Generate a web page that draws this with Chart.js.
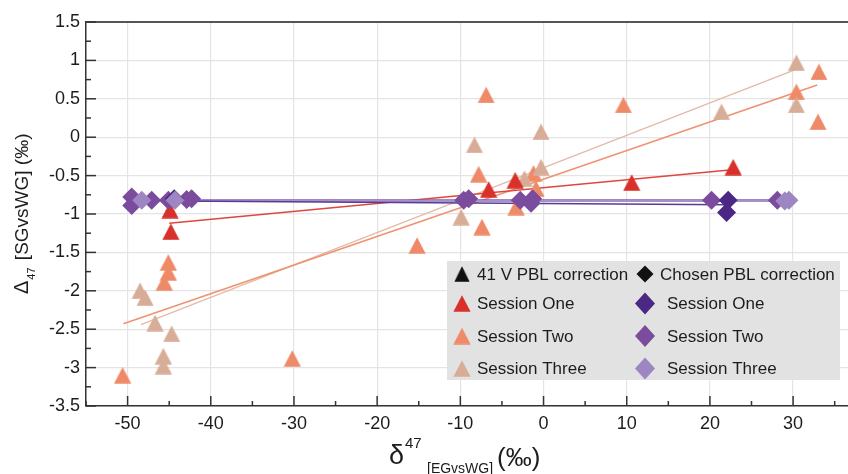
<!DOCTYPE html>
<html><head><meta charset="utf-8">
<script src="https://cdn.jsdelivr.net/npm/chart.js@4.4.1/dist/chart.umd.min.js"></script>
<style>html,body{margin:0;padding:0;background:#fff;}</style>
</head><body>
<canvas id="c" width="848" height="474"></canvas>
<script>
// ---- axis ticks ----
const xTicks = [-50, -40, -30, -20, -10, 0, 10, 20, 30];
const xMinorTicks = [-55, -45, -35, -25, -15, -5, 5, 15, 25, 35];
const yTicks = [-3.5, -3, -2.5, -2, -1.5, -1, -0.5, 0, 0.5, 1, 1.5];
const yMinorTicks = [-3.25, -2.75, -2.25, -1.75, -1.25, -0.75, -0.25, 0.25, 0.75, 1.25];

// ---- 41 V PBL correction (triangles) [x, y] ----
const v41SessionOne = [[-44.9, -0.95], [-44.8, -1.23], [-6.6, -0.68], [-3.4, -0.56], [10.6, -0.59], [22.8, -0.39]];
const v41SessionTwo = [[-50.6, -3.1], [-45.1, -1.63], [-45.1, -1.76], [-45.6, -1.89], [-30.2, -2.88], [-15.2, -1.41],
  [-6.9, 0.55], [-7.8, -0.48], [-7.4, -1.17], [-3.3, -0.91], [-1.2, -0.47], [-0.9, -0.67], [9.6, 0.42],
  [33.1, 0.85], [30.4, 0.59], [33.0, 0.20]];
const v41SessionThree = [[-48.5, -2.0], [-47.9, -2.09], [-46.7, -2.42], [-44.7, -2.56], [-45.7, -2.85], [-45.7, -2.98],
  [-8.3, -0.10], [-0.3, 0.07], [-0.3, -0.39], [-2.3, -0.54], [-9.9, -1.04], [21.4, 0.33], [30.4, 0.97], [30.4, 0.42]];

// ---- Chosen PBL correction (diamonds) [x, y] ----
const chosenSessionOne = [[-44.4, -0.80], [22.2, -0.82], [22.0, -0.98]];
const chosenSessionTwo = [[-49.5, -0.78], [-49.5, -0.89], [-47.1, -0.82], [-45.1, -0.82], [-42.9, -0.81], [-42.3, -0.80],
  [-9.6, -0.82], [-9.0, -0.80], [-2.8, -0.82], [-1.5, -0.86], [-1.3, -0.80], [20.2, -0.82], [28.1, -0.82]];
const chosenSessionThree = [[-48.3, -0.82], [-44.3, -0.82], [29.5, -0.82], [29.0, -0.83]];

// ---- regression lines (end points) ----
const fitV41One = [[-45.0, -1.12], [23.0, -0.42]];
const fitV41Two = [[-50.5, -2.43], [32.9, 0.68]];
const fitV41Three = [[-48.4, -2.44], [30.5, 0.89]];
const fitChosenOne = [[-44.4, -0.83], [22.1, -0.88]];
const fitChosenTwo = [[-49.5, -0.82], [28.1, -0.82]];
const fitChosenThree = [[-48.3, -0.83], [29.5, -0.83]];

// ---- legend labels ----
const legendHeaders = ['41 V PBL correction', 'Chosen PBL correction'];
const sessionNames = ['Session One', 'Session Two', 'Session Three'];

const COL = {
  red: '#d8302b', salmon: '#ee8a68', tan: '#d8ad98',
  dPurple: '#4a2883', mPurple: '#7b4c9e', lPurple: '#9d86c1'
};
const FONT = "'Liberation Sans', Arial, Helvetica, sans-serif";
const TXT = '#1c1c1c';

function triImg(color) {
  const c = document.createElement('canvas');
  c.width = 18; c.height = 17;
  const g = c.getContext('2d');
  g.fillStyle = color;
  g.beginPath(); g.moveTo(9, 0.3); g.lineTo(17.6, 16.7); g.lineTo(0.4, 16.7); g.closePath(); g.fill();
  return c;
}
const pts = a => a.map(p => ({x: p[0], y: p[1]}));

function lineDs(data, color, width, order) {
  return {data: pts(data), showLine: true, borderColor: color, borderWidth: width, pointRadius: 0, order: order};
}
function triDs(data, color, order) {
  return {data: pts(data), pointStyle: triImg(color), backgroundColor: color, order: order, showLine: false};
}
function diaDs(data, color, order) {
  return {data: pts(data), pointStyle: 'rectRot', pointRadius: 9.5, backgroundColor: color, borderColor: color,
    pointBorderWidth: 0, borderWidth: 0, order: order, showLine: false};
}

function drawDiamond(ctx, x, y, rw, rh, color) {
  ctx.fillStyle = color;
  ctx.beginPath(); ctx.moveTo(x - rw, y); ctx.lineTo(x, y - rh); ctx.lineTo(x + rw, y); ctx.lineTo(x, y + rh); ctx.closePath(); ctx.fill();
}

const decor = {
  id: 'decor',
  afterDraw(chart) {
    const {ctx, chartArea: a, scales: {x, y}} = chart;
    ctx.save();
    // top frame
    ctx.strokeStyle = '#555'; ctx.lineWidth = 2;
    ctx.beginPath(); ctx.moveTo(a.left, a.top); ctx.lineTo(a.right, a.top); ctx.stroke();
    // inward ticks
    ctx.strokeStyle = '#333'; ctx.lineWidth = 1.5;
    const tick = (px, py, dx, dy) => { ctx.beginPath(); ctx.moveTo(px, py); ctx.lineTo(px + dx, py + dy); ctx.stroke(); };
    xTicks.forEach(v => tick(x.getPixelForValue(v), a.bottom, 0, -10));
    xMinorTicks.forEach(v => tick(x.getPixelForValue(v), a.bottom, 0, -5));
    yTicks.forEach(v => tick(a.left, y.getPixelForValue(v), 10, 0));
    yMinorTicks.forEach(v => tick(a.left, y.getPixelForValue(v), 5, 0));

    // x axis title
    ctx.fillStyle = TXT; ctx.textBaseline = 'alphabetic'; ctx.textAlign = 'left';
    ctx.font = '27px ' + FONT; ctx.fillText('δ', 389, 464);
    ctx.font = '15px ' + FONT; ctx.fillText('47', 405, 448);
    ctx.font = '14px ' + FONT; ctx.fillText('[EGvsWG]', 427, 473);
    ctx.font = '26px ' + FONT; ctx.fillText('(‰)', 497, 466);

    // y axis title (rotated)
    ctx.save();
    ctx.translate(28, 294); ctx.rotate(-Math.PI / 2);
    ctx.font = '20px ' + FONT; ctx.fillText('Δ', 0, 0);
    let cx = ctx.measureText('Δ').width + 1;
    ctx.font = '11px ' + FONT; ctx.fillText('47', cx, 7);
    cx += ctx.measureText('47').width + 2;
    ctx.font = '19px ' + FONT; ctx.fillText(' [SGvsWG] (‰)', cx, 0);
    ctx.restore();

    // legend box
    ctx.fillStyle = '#e2e2e2';
    ctx.fillRect(447, 261, 393, 119);
    const rowsY = [274, 303.5, 336, 368.5];
    const triCols = [COL.red, COL.salmon, COL.tan];
    const diaCols = [COL.dPurple, COL.mPurple, COL.lPurple];
    ctx.font = '17px ' + FONT; ctx.fillStyle = TXT; ctx.textBaseline = 'middle';
    const blackTri = triImg('#111');
    ctx.drawImage(blackTri, 462 - 8, rowsY[0] - 8, 16, 16);
    ctx.fillStyle = TXT; ctx.fillText(legendHeaders[0], 477, rowsY[0] + 1);
    drawDiamond(ctx, 645, rowsY[0], 8.5, 8.5, '#111');
    ctx.fillStyle = TXT; ctx.fillText(legendHeaders[1], 660, rowsY[0] + 1);
    sessionNames.forEach((name, i) => {
      const yy = rowsY[i + 1];
      ctx.drawImage(triImg(triCols[i]), 462 - 9, yy - 8.5);
      ctx.fillStyle = TXT; ctx.fillText(name, 477, yy + 1);
      drawDiamond(ctx, 645, yy, 10, 11, diaCols[i]);
      ctx.fillStyle = TXT; ctx.fillText(name, 667, yy + 1);
    });
    ctx.restore();
  }
};

new Chart(document.getElementById('c'), {
  type: 'scatter',
  data: {
    datasets: [
      diaDs(chosenSessionThree, COL.lPurple, 1),
      diaDs(chosenSessionOne, COL.dPurple, 2),
      diaDs(chosenSessionTwo, COL.mPurple, 3),
      triDs(v41SessionOne, COL.red, 4),
      triDs(v41SessionThree, COL.tan, 5),
      triDs(v41SessionTwo, COL.salmon, 6),
      lineDs(fitChosenOne, '#5a3a93', 1.5, 7),
      lineDs(fitChosenThree, '#a591c9', 2, 8),
      lineDs(fitChosenTwo, '#8561aa', 2, 9),
      lineDs(fitV41One, '#e0463f', 1.5, 10),
      lineDs(fitV41Two, '#f0916f', 1.5, 11),
      lineDs(fitV41Three, '#e3bba9', 1.5, 12)
    ]
  },
  options: {
    responsive: false,
    animation: false,
    devicePixelRatio: 1,
    layout: {autoPadding: false, padding: {top: 22, right: 0, left: 0, bottom: 0}},
    plugins: {legend: {display: false}, tooltip: {enabled: false}},
    scales: {
      x: {
        type: 'linear', min: -55, max: 36.6,
        afterBuildTicks: s => { s.ticks = xTicks.map(v => ({value: v})); },
        afterFit: s => { s.height = 68; s.paddingLeft = 0; s.paddingRight = 0; },
        grid: {color: '#e4e4e4', lineWidth: 1.2, drawTicks: false},
        border: {display: true, color: '#333', width: 1.5},
        ticks: {font: {family: FONT, size: 18}, color: TXT, padding: 7, maxRotation: 0, autoSkip: false,
          callback: v => String(v)}
      },
      y: {
        type: 'linear', min: -3.5, max: 1.5,
        afterBuildTicks: s => { s.ticks = yTicks.map(v => ({value: v})); },
        afterFit: s => { s.width = 86; s.paddingTop = 0; s.paddingBottom = 0; },
        grid: {color: '#e4e4e4', lineWidth: 1.2, drawTicks: false},
        border: {display: true, color: '#333', width: 1.5},
        ticks: {font: {family: FONT, size: 18}, color: TXT, padding: 6, autoSkip: false,
          callback: v => String(v)}
      }
    }
  },
  plugins: [decor]
});
</script>
</body></html>
